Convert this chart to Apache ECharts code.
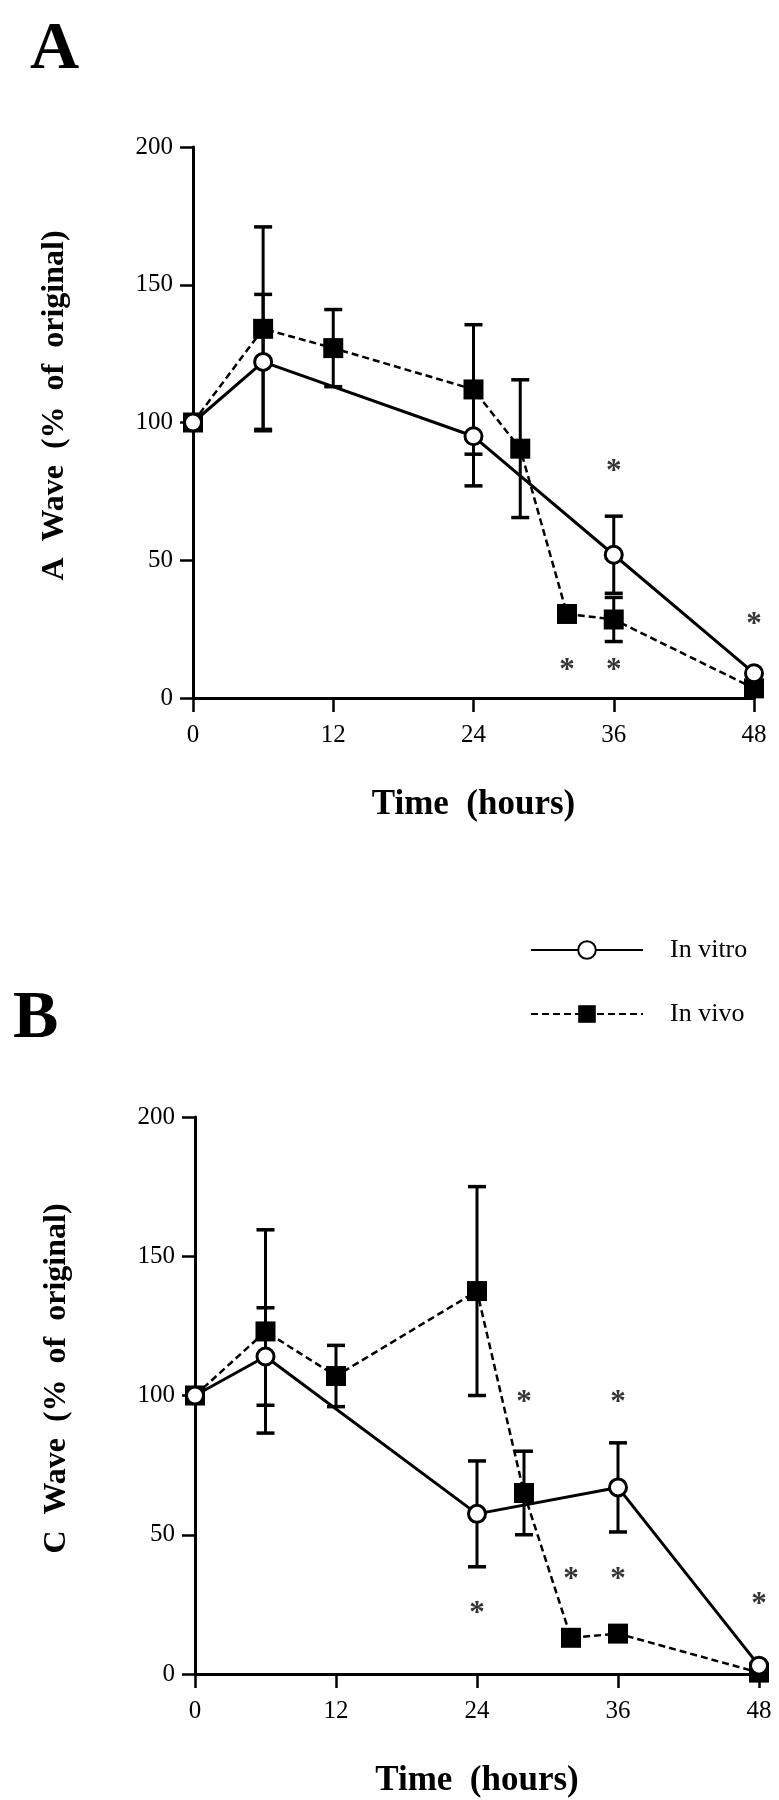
<!DOCTYPE html>
<html>
<head>
<meta charset="utf-8">
<script src="https://cdn.jsdelivr.net/npm/echarts@6/dist/echarts.min.js"></script>
<style>
  html, body { margin: 0; padding: 0; background: #fff; }
  #chart { width: 779px; height: 1800px; }
</style>
</head>
<body>
<div id="chart"></div>
<script>
// ---- Data ----
const xTicks = [0, 12, 24, 36, 48];
const yTicks = [0, 50, 100, 150, 200];

// Panel A (A wave)
const hoursA_vitro = [0, 6, 24, 36, 48];
const A_vitro      = [100, 122, 95, 52, 9];
const A_vitro_err  = [0, 24.5, 18, 14, 0];

const hoursA_vivo  = [0, 6, 12, 24, 28, 32, 36, 48];
const A_vivo       = [100, 134, 127, 112, 90.5, 30.5, 28.5, 3.5];
const A_vivo_err   = [0, 37, 14, 23.5, 25, 0, 8, 0];

const A_stars = [[36, 83], [48, 27.5], [32, 11], [36, 11]];

// Panel B (C wave)
const hoursB_vitro = [0, 6, 24, 36, 48];
const B_vitro      = [100, 114, 57.5, 67, 3];
const B_vitro_err  = [0, 17.5, 19, 16, 0];

const hoursB_vivo  = [0, 6, 12, 24, 28, 32, 36, 48];
const B_vivo       = [100, 123, 107, 137.5, 65, 13, 14.5, 0.5];
const B_vivo_err   = [0, 36.5, 11, 37.5, 15, 0, 0, 0];

const B_stars = [[24, 22.5], [28, 98.5], [32, 35], [36, 98.5], [36, 35], [48, 26]];

// ---- helpers ----
const SERIF = 'Liberation Serif, Times New Roman, serif';
const pairs = (xs, ys) => xs.map((x, i) => [x, ys[i]]);
const errData = (xs, ys, es) => xs.map((x, i) => [x, ys[i] - es[i], ys[i] + es[i], es[i]]).filter(d => d[3] > 0);

function errRender(params, api) {
  const x = api.value(0), lo = api.value(1), hi = api.value(2);
  const p1 = api.coord([x, hi]);
  const p2 = api.coord([x, lo]);
  const hw = 9;
  const st = { stroke: '#000', lineWidth: 3 };
  return {
    type: 'group',
    children: [
      { type: 'line', shape: { x1: p1[0], y1: p1[1], x2: p2[0], y2: p2[1] }, style: st },
      { type: 'line', shape: { x1: p1[0] - hw, y1: p1[1], x2: p1[0] + hw, y2: p1[1] }, style: { stroke: '#000', lineWidth: 3.5 } },
      { type: 'line', shape: { x1: p2[0] - hw, y1: p2[1], x2: p2[0] + hw, y2: p2[1] }, style: { stroke: '#000', lineWidth: 3.5 } }
    ]
  };
}

function xAxisCfg(gridIndex) {
  return {
    type: 'value', gridIndex, min: 0, max: 48, interval: 12,
    name: 'Time  (hours)', nameLocation: 'middle', nameGap: 89,
    nameTextStyle: { fontFamily: SERIF, fontSize: 35, fontWeight: 'bold', color: '#000' },
    axisLine: { show: true, onZero: false, lineStyle: { color: '#000', width: 3 } },
    axisTick: { show: true, length: 14, lineStyle: { color: '#000', width: 2.5 } },
    axisLabel: { fontFamily: SERIF, fontSize: 25, color: '#000', margin: 25,
      showMinLabel: true, showMaxLabel: true },
    splitLine: { show: false }
  };
}
function yAxisCfg(gridIndex, name) {
  return {
    type: 'value', gridIndex, min: 0, max: 200, interval: 50,
    name, nameLocation: 'middle', nameRotate: 90, nameGap: 122,
    nameTextStyle: { fontFamily: SERIF, fontSize: 32, fontWeight: 'bold', color: '#000', padding: [0, 0, 0, 34] },
    axisLine: { show: true, onZero: false, lineStyle: { color: '#000', width: 3 } },
    axisTick: { show: true, length: 13, lineStyle: { color: '#000', width: 2.5 } },
    axisLabel: { fontFamily: SERIF, fontSize: 25, color: '#000', margin: 20 },
    splitLine: { show: false }
  };
}

function panelSeries(idx, hVitro, vitro, vitroErr, hVivo, vivo, vivoErr, stars) {
  return [
    { type: 'custom', name: 'err_vivo_' + idx, xAxisIndex: idx, yAxisIndex: idx, z: 1,
      renderItem: errRender, data: errData(hVivo, vivo, vivoErr), silent: true },
    { type: 'custom', name: 'err_vitro_' + idx, xAxisIndex: idx, yAxisIndex: idx, z: 1,
      renderItem: errRender, data: errData(hVitro, vitro, vitroErr), silent: true },
    { type: 'line', name: 'In vivo', xAxisIndex: idx, yAxisIndex: idx, z: 3,
      data: pairs(hVivo, vivo), symbol: 'rect', symbolSize: 20, showAllSymbol: true,
      lineStyle: { color: '#000', width: 2.5, type: [7, 4] },
      itemStyle: { color: '#000', borderWidth: 0 } },
    { type: 'line', name: 'In vitro', xAxisIndex: idx, yAxisIndex: idx, z: 4,
      data: pairs(hVitro, vitro), symbol: 'circle', symbolSize: 17, showAllSymbol: true,
      lineStyle: { color: '#000', width: 3 },
      itemStyle: { color: '#fff', borderColor: '#000', borderWidth: 3 } },
    { type: 'scatter', name: 'stars_' + idx, xAxisIndex: idx, yAxisIndex: idx, z: 5,
      data: stars, symbolSize: 1, itemStyle: { color: 'rgba(0,0,0,0)' },
      label: { show: true, formatter: '*', position: 'inside', offset: [0, 3],
        fontFamily: SERIF, fontSize: 31, fontWeight: 'bold', color: '#000' } }
  ];
}

const chart = echarts.init(document.getElementById('chart'), null, { renderer: 'canvas' });
chart.setOption({
  animation: false,
  backgroundColor: '#fff',
  title: [
    { text: 'A', left: 30, top: 16, padding: 0,
      textStyle: { fontFamily: SERIF, fontSize: 68, fontWeight: 'bold', color: '#000' } },
    { text: 'B', left: 13, top: 985, padding: 0,
      textStyle: { fontFamily: SERIF, fontSize: 68, fontWeight: 'bold', color: '#000' } }
  ],
  legend: {
    data: ['In vitro', 'In vivo'],
    orient: 'vertical', left: 525, top: 932,
    itemWidth: 112, itemHeight: 22, itemGap: 38,
    selectedMode: false,
    textStyle: { fontFamily: SERIF, fontSize: 26, color: '#000', padding: [0, 0, 0, 22] }
  },
  grid: [
    { left: 193, top: 147, width: 561, height: 551 },
    { left: 195, top: 1117, width: 564, height: 557 }
  ],
  xAxis: [xAxisCfg(0), xAxisCfg(1)],
  yAxis: [yAxisCfg(0, 'A  Wave  (%  of  original)'), yAxisCfg(1, 'C  Wave  (%  of  original)')],
  series: [
    ...panelSeries(0, hoursA_vitro, A_vitro, A_vitro_err, hoursA_vivo, A_vivo, A_vivo_err, A_stars),
    ...panelSeries(1, hoursB_vitro, B_vitro, B_vitro_err, hoursB_vivo, B_vivo, B_vivo_err, B_stars)
  ]
});
</script>
</body>
</html>
